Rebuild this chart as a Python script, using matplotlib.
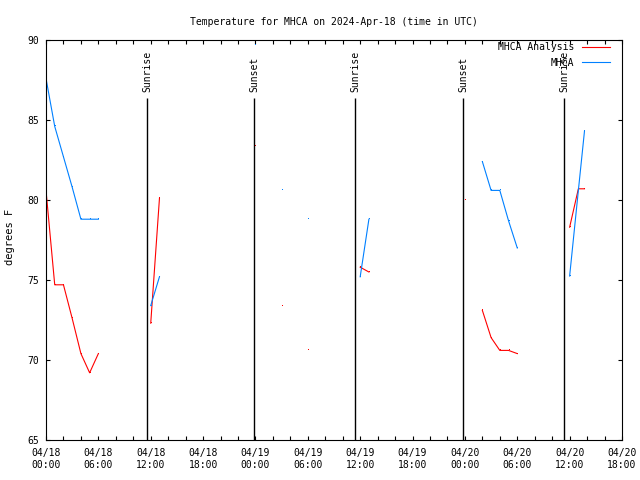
import numpy as np
import matplotlib
matplotlib.use("Agg")
import matplotlib.pyplot as plt
import matplotlib.dates as mdates
from matplotlib.lines import Line2D

nan = np.nan
# hours since 2024-04-18 00:00 UTC; nan rows break the line
hours = [0, 1, 2, 3, 4, 5, 6, 9, 12, 13, 18, 24, 25, 27, 28, 30, 33, 36, 37, 42,
         48, 49, 50, 51, 52, 53, 54, 57, 60, 61, 61.7]
analysis = [80.6, 74.7, 74.7, 72.6, 70.4, 69.2, 70.4, nan, 72.3, 80.1, nan, 83.4, nan,
            73.4, nan, 70.6, nan, 75.8, 75.5, nan, 80.0, nan, 73.1, 71.4, 70.6, 70.6,
            70.4, nan, 78.3, 80.7, 80.7]
observed = [87.6, 84.6, 82.7, 80.8, 78.8, 78.8, 78.8, nan, 73.4, 75.2, nan, 89.7, nan,
            80.6, nan, 78.8, nan, 75.2, 78.8, nan, nan, nan, 82.4, 80.6, 80.6, 78.7,
            77.0, nan, 75.25, 80.6, 84.3]

sun_names = ["Sunrise", "Sunset", "Sunrise", "Sunset", "Sunrise"]
sun_hours = [11.57, 23.87, 35.44, 47.82, 59.39]

base = np.datetime64("2024-04-18T00:00")


def to_time(h):
    return base + (np.array(h) * 60).round().astype("timedelta64[m]")


t = to_time(hours)
plt.rcParams["font.family"] = "DejaVu Sans Mono"
plt.rcParams["font.size"] = 7

red, blue = "#ff0000", "#0080ff"

fig = plt.figure(figsize=(6.4, 4.8), dpi=100)
ax = fig.add_axes([46 / 640, 40 / 480, 576 / 640, 400 / 480])

# lines plus single-pixel marks so isolated readings still show
ax.plot(t, analysis, "-", marker=",", color=red, lw=0.8)
ax.plot(t, observed, "-", marker=",", color=blue, lw=0.8)

for name, h in zip(sun_names, sun_hours):
    ts = to_time(h)
    ax.vlines(ts, 65, 86.4, color="black", lw=1)
    ax.text(ts, 86.75, name, rotation=90, ha="center", va="bottom")

ax.set_xlim(to_time(0), to_time(66))
ax.set_ylim(65, 90)
ax.set_yticks(range(65, 91, 5))
ax.xaxis.set_major_locator(mdates.HourLocator(byhour=[0, 6, 12, 18]))
ax.xaxis.set_major_formatter(mdates.DateFormatter("%m/%d\n%H:%M"))
ax.xaxis.set_minor_locator(mdates.HourLocator(byhour=range(0, 24, 2)))
ax.tick_params(which="both", direction="in", top=True, right=True, length=3, width=0.8)
ax.tick_params(axis="x", pad=6)
ax.tick_params(axis="y", pad=5)
for s in ax.spines.values():
    s.set_linewidth(0.8)

ax.set_title("Temperature for MHCA on 2024-Apr-18 (time in UTC)", fontsize=7, pad=11)
fig.text(10 / 640, 0.506, "degrees F", rotation=90, ha="center", va="center", fontsize=7.5)

handles = [Line2D([], [], color=red, lw=0.8), Line2D([], [], color=blue, lw=0.8)]
ax.legend(handles, ["MHCA Analysis", "MHCA"], loc="upper right",
          bbox_to_anchor=(0.98, 0.995), frameon=False, markerfirst=False,
          borderpad=0, borderaxespad=0, handlelength=2.9, handletextpad=0.8,
          labelspacing=0.6)

fig.savefig("out.png", dpi=100)
